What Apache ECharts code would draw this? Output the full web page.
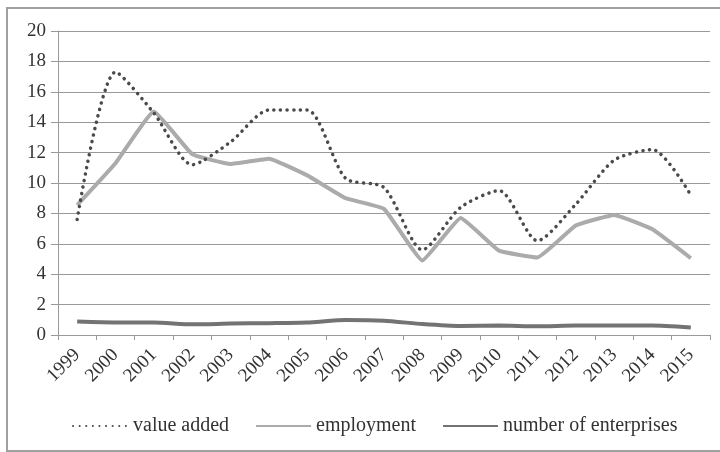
<!DOCTYPE html>
<html>
<head>
<meta charset="utf-8">
<script src="https://cdn.jsdelivr.net/npm/echarts@6/dist/echarts.min.js"></script>
<style>html,body{margin:0;padding:0;background:#fff}#c{width:720px;height:452px}</style>
</head>
<body>
<div id="c"></div>
<script>
var years = ['1999','2000','2001','2002','2003','2004','2005','2006','2007','2008','2009','2010','2011','2012','2013','2014','2015'];
var valueAdded = [7.6,17.3,14.6,11.2,12.7,14.8,14.8,10.3,9.7,5.6,8.4,9.5,6.2,8.6,11.5,12.2,9.2];
var employment = [8.55,11.3,14.7,11.9,11.25,11.6,10.5,9.0,8.3,4.9,7.7,5.55,5.1,7.2,7.9,6.95,5.05];
var enterprises = [0.88,0.82,0.82,0.7,0.75,0.78,0.82,0.98,0.94,0.72,0.59,0.62,0.58,0.62,0.62,0.62,0.5];
var yTicks = {min:0, max:20, interval:2};

var chart = echarts.init(document.getElementById('c'));
var font = 'Liberation Serif';
chart.setOption({
  animation:false,
  graphic:[{type:'rect', shape:{x:7,y:8,width:720,height:443}, style:{fill:'none', stroke:'#a0a0a0', lineWidth:2}, silent:true}],
  grid:{left:58, right:10, top:31, bottom:117},
  legend:{
    top:411, left:67, width:640, itemWidth:55, itemHeight:10, itemGap:26,
    itemStyle:{opacity:0},
    textStyle:{fontFamily:font, fontSize:20, color:'#333'},
    data:['value added','employment','number of enterprises']
  },
  xAxis:{
    type:'category', data:years, boundaryGap:true,
    axisLine:{show:true, lineStyle:{color:'#999', width:1}},
    axisTick:{show:true, length:5, lineStyle:{color:'#999'}},
    axisLabel:{rotate:45, fontFamily:font, fontSize:19, color:'#333', margin:17}
  },
  yAxis:{
    type:'value', min:yTicks.min, max:yTicks.max, interval:yTicks.interval,
    axisLine:{show:true, lineStyle:{color:'#999'}},
    axisTick:{show:true, length:7, lineStyle:{color:'#999'}},
    splitLine:{lineStyle:{color:'#999', width:1}},
    axisLabel:{fontFamily:font, fontSize:19, color:'#333', margin:12}
  },
  series:[
    {name:'value added', type:'line', data:valueAdded, symbol:'none', smooth:0.25,
     lineStyle:{color:'#4a4a4a', width:3.5, type:[0.1,6.5], cap:'round'}, itemStyle:{color:'#4a4a4a'}, z:3},
    {name:'employment', type:'line', data:employment, symbol:'none', smooth:0.1,
     lineStyle:{color:'#ababab', width:4}, itemStyle:{color:'#ababab'}, z:2},
    {name:'number of enterprises', type:'line', data:enterprises, symbol:'none', smooth:0.2,
     lineStyle:{color:'#737373', width:4}, itemStyle:{color:'#737373'}, z:2}
  ]
});
</script>
</body>
</html>
